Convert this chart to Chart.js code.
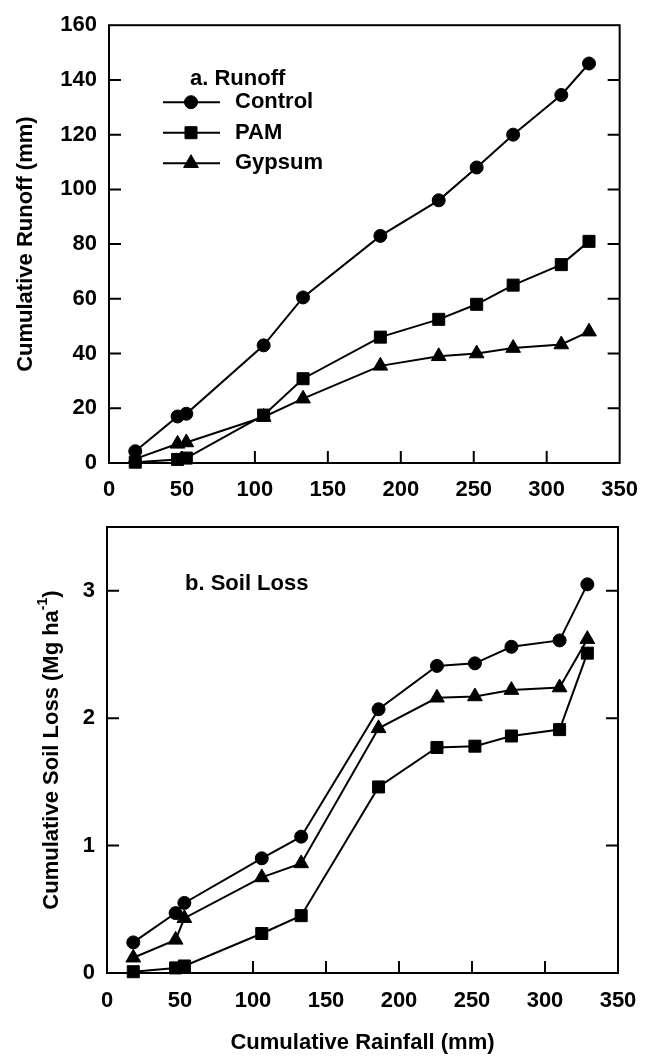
<!DOCTYPE html>
<html>
<head>
<meta charset="utf-8">
<script src="https://cdn.jsdelivr.net/npm/chart.js@4.4.1/dist/chart.umd.min.js"></script>
<style>
html, body { margin: 0; padding: 0; background: #fff; }
#wrap { position: relative; width: 652px; height: 1056px; }
canvas { position: absolute; left: 0; }
#runoff { top: 0; }
#soil { top: 500px; }
</style>
</head>
<body>
<div id="wrap">
    <canvas id="runoff" width="652" height="500"></canvas>
    <canvas id="soil" width="652" height="556"></canvas>
</div>
<script>
'use strict';

// cumulative rainfall (mm) at each event
const rainfall = [18, 47, 53, 106, 133, 186, 226, 252, 277, 310, 329];

// a. cumulative runoff (mm)
const runoffControl = [4.3, 17, 18, 43, 60.5, 83, 96, 108, 120, 134.5, 146];
const runoffPam     = [0.3, 1.3, 1.8, 17.5, 30.8, 46, 52.5, 58, 65, 72.5, 81];
const runoffGypsum  = [1.5, 7, 7.5, 16.8, 23.5, 35.5, 39, 40, 42, 43.3, 48];

// b. cumulative soil loss (Mg/ha)
const soilControl = [0.24, 0.47, 0.55, 0.9, 1.07, 2.07, 2.41, 2.43, 2.56, 2.61, 3.05];
const soilPam     = [0.01, 0.04, 0.055, 0.31, 0.45, 1.46, 1.77, 1.78, 1.86, 1.91, 2.51];
const soilGypsum  = [0.12, 0.26, 0.43, 0.75, 0.86, 1.92, 2.16, 2.17, 2.22, 2.24, 2.62];

const seriesNames = ['Control', 'PAM', 'Gypsum'];
const xTicks = [0, 50, 100, 150, 200, 250, 300, 350];
const runoffTicks = [0, 20, 40, 60, 80, 100, 120, 140, 160];
const soilTicks = [0, 1, 2, 3];

const FONT = "'Liberation Sans', Arial, sans-serif";
Chart.defaults.font.family = FONT;
Chart.defaults.color = '#000';

const markers = [
    { style: 'circle', radius: 6.5 },
    { style: 'rect', radius: 8.5 },
    { style: 'triangle', radius: 8.5 },
];

function makeDatasets(values) {
    return seriesNames.map((name, i) => ({
        label: name,
        data: rainfall.map((x, j) => ({ x: x, y: values[i][j] })),
        showLine: true,
        borderColor: '#000',
        backgroundColor: '#000',
        borderWidth: 2,
        pointStyle: markers[i].style,
        pointRadius: markers[i].radius,
        pointBorderWidth: 1,
        tension: 0,
        clip: false
    }));
}

function drawMarker(ctx, style, radius, x, y) {
    ctx.fillStyle = '#000';
    ctx.strokeStyle = '#000';
    ctx.lineWidth = 1;
    if (Chart.helpers && Chart.helpers.drawPoint) {
        Chart.helpers.drawPoint(ctx, { pointStyle: style, radius: radius, rotation: 0, borderWidth: 1 }, x, y);
        return;
    }
    ctx.beginPath();
    ctx.arc(x, y, radius, 0, Math.PI * 2);
    ctx.fill();
}

const panelPlugin = {
    id: 'panel',
    beforeDatasetsDraw(chart, args, o) {
        const { ctx, chartArea: a, scales: { x, y } } = chart;
        const T = 12;
        ctx.save();
        ctx.strokeStyle = '#000';
        ctx.lineWidth = 2;
        ctx.strokeRect(a.left, a.top, a.right - a.left, a.bottom - a.top);
        ctx.beginPath();
        x.ticks.forEach(t => {
            const px = x.getPixelForValue(t.value);
            if (px - a.left < 2 || a.right - px < 2) return;
            ctx.moveTo(px, a.bottom);
            ctx.lineTo(px, a.bottom - T);
        });
        y.ticks.forEach(t => {
            const py = y.getPixelForValue(t.value);
            if (py - a.top < 2 || a.bottom - py < 2) return;
            ctx.moveTo(a.left, py);
            ctx.lineTo(a.left + T, py);
            ctx.moveTo(a.right, py);
            ctx.lineTo(a.right - T, py);
        });
        ctx.stroke();
        ctx.restore();
    },
    afterDraw(chart, args, o) {
        const { ctx, chartArea: a } = chart;
        ctx.save();
        ctx.fillStyle = '#000';
        ctx.textBaseline = 'middle';

        // y axis title (with optional superscript)
        const main = 'bold 22px ' + FONT;
        const small = 'bold 14px ' + FONT;
        ctx.save();
        ctx.translate(o.yTitleX, (a.top + a.bottom) / 2);
        ctx.rotate(-Math.PI / 2);
        ctx.font = main;
        const w1 = ctx.measureText(o.yTitle).width;
        ctx.font = small;
        const w2 = o.yTitleSup ? ctx.measureText(o.yTitleSup).width : 0;
        ctx.font = main;
        const w3 = o.yTitleEnd ? ctx.measureText(o.yTitleEnd).width : 0;
        let pos = -(w1 + w2 + w3) / 2;
        ctx.textAlign = 'left';
        ctx.fillText(o.yTitle, pos, 0);
        pos += w1;
        if (o.yTitleSup) {
            ctx.font = small;
            ctx.fillText(o.yTitleSup, pos, -9);
            pos += w2;
            ctx.font = main;
            ctx.fillText(o.yTitleEnd, pos, 0);
        }
        ctx.restore();

        // x axis title
        if (o.xTitle) {
            ctx.font = main;
            ctx.textAlign = 'center';
            ctx.fillText(o.xTitle, (a.left + a.right) / 2, o.xTitleY);
        }

        // panel heading
        ctx.font = main;
        ctx.textAlign = 'left';
        ctx.fillText(o.heading, a.left + o.headingDx, a.top + o.headingDy);

        // legend
        if (o.legend) {
            chart.data.datasets.forEach((ds, i) => {
                const ly = a.top + 77 + i * 30.5;
                ctx.strokeStyle = '#000';
                ctx.lineWidth = 2;
                ctx.beginPath();
                ctx.moveTo(a.left + 54, ly);
                ctx.lineTo(a.left + 111, ly);
                ctx.stroke();
                drawMarker(ctx, ds.pointStyle, ds.pointRadius, a.left + 82, ly);
                ctx.fillStyle = '#000';
                ctx.font = main;
                ctx.fillText(ds.label, a.left + 126, ly);
            });
        }
        ctx.restore();
    }
};

function panelOptions(cfg) {
    const tickFont = { size: 22, weight: 'bold' };
    return {
        responsive: false,
        animation: false,
        layout: { padding: { top: cfg.top, right: cfg.right, left: 0, bottom: 0 } },
        plugins: {
            legend: { display: false },
            tooltip: { enabled: false },
            panel: cfg.panel
        },
        scales: {
            x: {
                type: 'linear',
                min: 0,
                max: 350,
                afterBuildTicks: s => { s.ticks = xTicks.map(v => ({ value: v })); },
                afterFit: s => { s.height = cfg.xHeight; },
                grid: { display: false, drawTicks: false },
                border: { display: false },
                ticks: { font: tickFont, color: '#000', padding: cfg.xPad, maxRotation: 0, autoSkip: false }
            },
            y: {
                type: 'linear',
                min: 0,
                max: cfg.yMax,
                afterBuildTicks: s => { s.ticks = cfg.yTicks.map(v => ({ value: v })); },
                afterFit: s => { s.width = cfg.yWidth; },
                grid: { display: false, drawTicks: false },
                border: { display: false },
                ticks: { font: tickFont, color: '#000', padding: 12 }
            }
        }
    };
}

new Chart(document.getElementById('runoff'), {
    type: 'scatter',
    data: { datasets: makeDatasets([runoffControl, runoffPam, runoffGypsum]) },
    options: panelOptions({
        top: 22, right: 30, xHeight: 37, yWidth: 109, xPad: 14,
        yMax: 160, yTicks: runoffTicks,
        panel: {
            yTitle: 'Cumulative Runoff (mm)', yTitleX: 26,
            heading: 'a. Runoff', headingDx: 81, headingDy: 54,
            legend: true
        }
    }),
    plugins: [panelPlugin]
});

new Chart(document.getElementById('soil'), {
    type: 'scatter',
    data: { datasets: makeDatasets([soilControl, soilPam, soilGypsum]) },
    options: panelOptions({
        top: 27, right: 34, xHeight: 83, yWidth: 107, xPad: 15,
        yMax: 3.5, yTicks: soilTicks,
        panel: {
            yTitle: 'Cumulative Soil Loss (Mg ha', yTitleSup: '-1', yTitleEnd: ')', yTitleX: 52,
            xTitle: 'Cumulative Rainfall (mm)', xTitleY: 543,
            heading: 'b. Soil Loss', headingDx: 78, headingDy: 57,
            legend: false
        }
    }),
    plugins: [panelPlugin]
});
</script>
</body>
</html>
